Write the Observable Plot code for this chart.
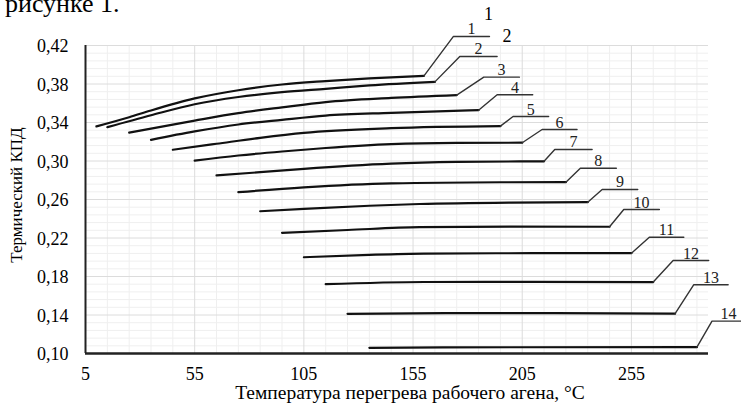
<!DOCTYPE html>
<html>
<head>
<meta charset="utf-8">
<script src="https://cdn.jsdelivr.net/npm/d3@7"></script>
<script src="https://cdn.jsdelivr.net/npm/@observablehq/plot@0.6"></script>
<style>
  html, body { margin: 0; padding: 0; background: #fff; }
  #wrap { position: relative; width: 741px; height: 403px; overflow: hidden; }
  #top { position: absolute; left: 5px; top: -9px; font: 26px "Liberation Serif", "Times New Roman", serif; line-height: 26px; color: #000; white-space: nowrap; }
  svg { position: absolute; left: 0; top: 0; }
  svg text { font-family: "Liberation Serif", "Times New Roman", serif !important; font-variant: normal !important; }
</style>
</head>
<body>
<div id="wrap"><div id="top">рисунке 1.</div></div>
<script>
// ---- data ----
const xTitle = "Температура перегрева рабочего агена, °C";
const yTitle = "Термический КПД";
const xTicks = [5, 55, 105, 155, 205, 255];
const yTicks = [0.10, 0.14, 0.18, 0.22, 0.26, 0.30, 0.34, 0.38, 0.42];
const curveLabels = ["1","2","3","4","5","6","7","8","9","10","11","12","13","14"];

const curve1  = [[10,0.336],[25,0.3455],[35,0.3525],[55,0.365],[75,0.3735],[95,0.3795],[115,0.383],[135,0.3858],[160,0.3885]];
const curve2  = [[15,0.3351],[35,0.3475],[55,0.359],[75,0.3665],[95,0.3715],[115,0.375],[135,0.3785],[165,0.3822]];
const curve3  = [[25,0.3295],[55,0.342],[75,0.3497],[95,0.3557],[115,0.3612],[145,0.3655],[175,0.3685]];
const curve4  = [[35,0.322],[55,0.3307],[75,0.3379],[95,0.3428],[115,0.3472],[145,0.350],[185,0.3528]];
const curve5  = [[45,0.3117],[65,0.3179],[85,0.3241],[105,0.3293],[145,0.3341],[195,0.3362]];
const curve6  = [[55,0.3003],[75,0.3057],[95,0.3099],[115,0.3135],[145,0.3175],[175,0.3188],[205,0.319]];
const curve7  = [[65,0.285],[85,0.2884],[105,0.2919],[145,0.2972],[175,0.299],[215,0.2997]];
const curve8  = [[75,0.2676],[105,0.2726],[145,0.2767],[195,0.2779],[225,0.278]];
const curve9  = [[85,0.2478],[105,0.2503],[135,0.2535],[158,0.2553],[200,0.2568],[235,0.2572]];
const curve10 = [[95,0.2254],[125,0.2283],[158,0.2312],[200,0.2318],[245,0.2317]];
const curve11 = [[105,0.2],[135,0.2025],[160,0.2038],[210,0.2042],[255,0.2042]];
const curve12 = [[115,0.172],[160,0.1743],[210,0.1745],[265,0.1742]];
const curve13 = [[125,0.1412],[170,0.142],[220,0.142],[275,0.1414]];
const curve14 = [[135,0.1059],[200,0.1065],[285,0.1066]];
const curves = [curve1,curve2,curve3,curve4,curve5,curve6,curve7,curve8,curve9,curve10,curve11,curve12,curve13,curve14];

// leader lines: knee point and end of the horizontal shelf
const kneeX   = [173.5,176.4,187.4,193.5,200.8,214.1,219.9,231.6,241.6,251.5,263.2,274.1,283.5,291.9];
const kneeY   = [0.4294,0.4086,0.3871,0.3688,0.3462,0.3327,0.312,0.2925,0.2704,0.2496,0.2208,0.1966,0.1714,0.1336];
const shelfX  = [190.0,193.5,203.7,209.8,217.1,230.1,237.0,248.1,257.9,267.8,279.0,290.4,299.3,307.0];
// stray labels above the chart
const strayText = ["1", "2"];
const strayX = [189.6, 198.0];
const strayY = [0.4522, 0.4297];

// ---- build tables ----
const lineData = curves.flatMap((c, i) => c.map(([x, y]) => ({s: curveLabels[i], x, y})));
const leaderData = curves.flatMap((c, i) => {
  const last = c[c.length - 1];
  return [
    {s: curveLabels[i], x: last[0], y: last[1]},
    {s: curveLabels[i], x: kneeX[i], y: kneeY[i]},
    {s: curveLabels[i], x: shelfX[i], y: kneeY[i]}
  ];
});
const labelData = curveLabels.map((t, i) => ({t, x: (kneeX[i] + shelfX[i]) / 2, y: kneeY[i]}));
const strayData = strayText.map((t, i) => ({t, x: strayX[i], y: strayY[i]}));

const minorX = d3.range(15, 290, 10).filter(v => !xTicks.includes(v));
const majorX = xTicks.slice(1);
const minorY = d3.range(0, 41).map(i => +(0.10 + i * 0.008).toFixed(3)).filter(v => !yTicks.some(t => Math.abs(t - v) < 1e-6));
const majorY = yTicks.slice(1);

const serif = '"Liberation Serif", "Times New Roman", serif';
const fmtY = d => d.toFixed(2).replace(".", ",");

const chart = Plot.plot({
  width: 741,
  height: 403,
  marginLeft: 85,
  marginRight: 33,
  marginTop: 45,
  marginBottom: 50,
  style: {fontFamily: serif, fontSize: "18px", color: "#000", background: "transparent", overflow: "visible"},
  x: {domain: [5, 290.3], axis: null},
  y: {domain: [0.10, 0.42], axis: null},
  marks: [
    Plot.ruleX(minorX, {stroke: "#efefef", strokeWidth: 1}),
    Plot.ruleY(minorY, {stroke: "#efefef", strokeWidth: 1}),
    Plot.ruleX(majorX, {stroke: "#dcdcdc", strokeWidth: 1}),
    Plot.ruleY(majorY, {stroke: "#dcdcdc", strokeWidth: 1}),
    Plot.line(lineData, {x: "x", y: "y", z: "s", curve: "monotone-x", stroke: "#111", strokeWidth: 2.2}),
    Plot.line(leaderData, {x: "x", y: "y", z: "s", stroke: "#333", strokeWidth: 1.4}),
    Plot.text(labelData, {x: "x", y: "y", text: "t", lineAnchor: "bottom", dy: -2, fontSize: 16, fill: "#222"}),
    Plot.text(strayData, {x: "x", y: "y", text: "t", fontSize: 18, fill: "#000"}),
    Plot.ruleX([5], {stroke: "#222", strokeWidth: 2}),
    Plot.ruleY([0.10], {stroke: "#222", strokeWidth: 2.5}),
    Plot.text(xTicks, {x: d => d, frameAnchor: "bottom", lineAnchor: "middle", textAnchor: "middle", dy: 21, text: d => String(d), fontSize: 18, fill: "#000"}),
    Plot.text(yTicks, {y: d => d, frameAnchor: "left", lineAnchor: "middle", textAnchor: "end", dx: -17, dy: 1, text: fmtY, fontSize: 18, fill: "#000"}),
    Plot.text([xTitle], {frameAnchor: "bottom", lineAnchor: "middle", textAnchor: "middle", dy: 39.5, dx: 13, fontSize: 19.5, fill: "#000"}),
    Plot.text([yTitle], {frameAnchor: "left", lineAnchor: "middle", textAnchor: "middle", rotate: -90, dx: -69, dy: -4.5, fontSize: 17, fill: "#000"})
  ]
});
document.getElementById("wrap").appendChild(chart);
</script>
</body>
</html>
